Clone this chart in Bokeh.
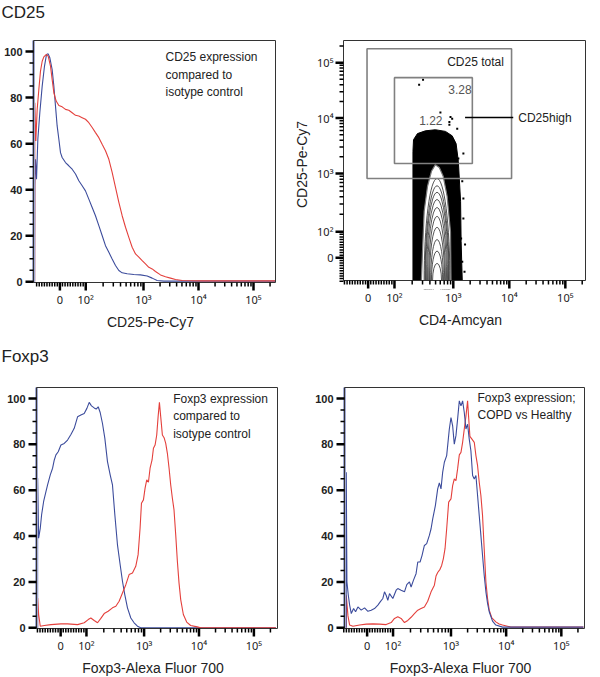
from bokeh.plotting import figure
from bokeh.layouts import column, row
from bokeh.models import Range1d, FixedTicker
from bokeh.core.properties import value
from bokeh.embed import file_html
from bokeh.resources import INLINE
import math

FONT = "Liberation Sans"
TICK_FONT = "Noto Sans"

# ---------------- axis scales (display units: one unit = one decade) ----------------
fl_tick_values = [1.48, 1.95, 3.0, 4.0, 5.0]
fl_tick_labels = ["0", "10²", "10³", "10⁴", "10⁵"]
pct_ticks = [0, 20, 40, 60, 80, 100]
pct_minor = [5, 10, 15, 25, 30, 35, 45, 50, 55, 65, 70, 75, 85, 90, 95]

# ---------------- CD25 histogram (isotype = blue, CD25 = red) ----------------
cd25_iso_x = [1.02, 1.024, 1.036, 1.055, 1.079, 1.115, 1.158, 1.200, 1.236, 1.267,
              1.297, 1.339, 1.370, 1.400, 1.430, 1.461, 1.491, 1.521, 1.582, 1.642,
              1.703, 1.764, 1.824, 1.885, 1.945, 2.006, 2.067, 2.127, 2.188, 2.248,
              2.309, 2.370, 2.430, 2.491, 2.552, 2.612, 2.703, 2.824, 2.945, 3.067,
              3.158, 3.248, 3.370, 5.40]
cd25_iso_pct = [0, 41.7, 53.2, 44.6, 61.9, 73.4, 85.0, 93.7, 98.7, 99.0,
                97.3, 92.2, 85.0, 76.3, 67.7, 61.9, 56.1, 54.0, 51.8, 50.4,
                48.9, 46.8, 43.9, 41.7, 39.5, 35.9, 32.3, 28.7, 24.4, 20.1,
                15.7, 12.8, 9.9, 7.1, 4.9, 3.9, 3.5, 3.2, 3.0, 2.5,
                1.6, 0.6, 0.3, 0.3]
cd25_stain_x = [1.02, 1.024, 1.042, 1.067, 1.097, 1.127, 1.158, 1.188, 1.230, 1.267,
                1.309, 1.339, 1.370, 1.412, 1.461, 1.521, 1.582, 1.642, 1.703, 1.764,
                1.824, 1.885, 1.945, 2.006, 2.067, 2.127, 2.188, 2.248, 2.309, 2.370,
                2.430, 2.491, 2.552, 2.612, 2.673, 2.733, 2.794, 2.855, 2.915, 2.976,
                3.036, 3.097, 3.158, 3.218, 3.309, 3.400, 3.491, 3.582, 3.703, 4.036,
                5.40]
cd25_stain_pct = [0, 77.8, 61.2, 74.9, 83.5, 91.5, 95.8, 97.7, 98.7, 98.0,
                  93.7, 87.9, 82.1, 78.5, 76.6, 76.0, 74.9, 74.5, 73.4, 72.3,
                  72.0, 71.3, 70.6, 69.1, 67.0, 64.8, 62.6, 59.7, 56.9, 53.2,
                  47.5, 41.0, 34.5, 28.7, 23.7, 19.3, 15.0, 12.1, 10.7, 9.2,
                  7.8, 6.3, 5.6, 4.5, 3.0, 2.2, 1.6, 1.0, 0.6, 0.4,
                  0.4]

# ---------------- CD4 vs CD25 plot ----------------
cloud_x = [2.28, 2.28, 2.29, 2.36, 2.50, 2.68, 2.86, 2.98, 3.05, 3.09, 3.13, 3.14, 3.16]
cloud_y = [1.07, 3.40, 3.61, 3.72, 3.77, 3.79, 3.76, 3.68, 3.54, 3.22, 2.50, 1.77, 1.07]
arch_x = [2.43, 2.45, 2.48, 2.54, 2.61, 2.68, 2.75, 2.82, 2.89, 2.95, 2.96]
arch_y = [1.07, 1.59, 2.32, 2.77, 3.04, 3.16, 3.11, 2.95, 2.59, 1.95, 1.07]
contour_center_x = 2.71
contour_base_y = 1.07
contour_top_y = [2.91, 2.78, 2.66, 2.53, 2.39, 2.23, 2.03, 1.81, 1.60, 1.38]
contour_width = [0.46, 0.43, 0.41, 0.375, 0.34, 0.30, 0.27, 0.23, 0.20, 0.16]
event_x = [2.39, 2.46, 2.77, 2.98, 2.93, 3.07, 3.18, 3.09, 3.16, 3.18, 3.18, 3.14, 3.21, 3.16, 3.20, 2.93, 2.95]
event_y = [4.60, 4.69, 4.10, 3.99, 3.88, 3.81, 3.36, 3.27, 2.86, 2.55, 2.19, 1.83, 1.72, 1.41, 1.23, 3.93, 4.02]
gate_names = ["CD25 total", "CD25high"]
gate_left = [1.46, 1.95]
gate_right = [4.04, 3.34]
gate_bottom = [2.91, 3.18]
gate_top = [5.25, 4.73]
gate_freq = ["3.28", "1.22"]

# ---------------- Foxp3 vs isotype ----------------
foxp3_iso_x = [1.06, 1.061, 1.079, 1.109, 1.133, 1.170, 1.212, 1.242, 1.291, 1.333,
               1.364, 1.394, 1.436, 1.485, 1.545, 1.606, 1.667, 1.727, 1.788, 1.848,
               1.909, 1.958, 2.000, 2.042, 2.091, 2.127, 2.164, 2.200, 2.242, 2.285,
               2.333, 2.382, 2.424, 2.467, 2.515, 2.564, 2.606, 2.648, 2.697, 2.758,
               2.818, 2.879, 2.939, 5.40]
foxp3_iso_pct = [0, 65.2, 39.1, 43.5, 49.3, 55.1, 59.4, 62.3, 66.7, 69.6,
                 73.2, 75.4, 76.8, 79.7, 80.4, 81.9, 84.3, 87.0, 92.0, 92.8,
                 93.5, 95.7, 98.3, 96.8, 95.9, 95.4, 96.4, 93.9, 89.1, 82.6,
                 72.5, 66.7, 62.3, 49.3, 36.2, 27.5, 20.3, 14.5, 8.7, 4.3,
                 2.2, 0.7, 0.0, 0.0]
foxp3_stain_x = [1.06, 1.061, 1.079, 1.109, 1.182, 1.303, 1.485, 1.606, 1.788, 1.909,
                 1.982, 2.030, 2.091, 2.152, 2.212, 2.273, 2.345, 2.424, 2.485, 2.545,
                 2.606, 2.667, 2.727, 2.788, 2.848, 2.891, 2.927, 2.952, 2.988, 3.018,
                 3.048, 3.079, 3.109, 3.145, 3.170, 3.200, 3.230, 3.255, 3.279, 3.303,
                 3.333, 3.364, 3.394, 3.424, 3.455, 3.485, 3.515, 3.545, 3.576, 3.606,
                 3.636, 3.667, 3.715, 3.776, 3.848, 3.970, 4.030, 5.40]
foxp3_stain_pct = [0, 13.0, 5.8, 0.7, 1.0, 1.4, 1.7, 1.7, 1.4, 2.2,
                   3.6, 4.3, 3.2, 2.2, 4.1, 6.2, 7.2, 8.7, 9.4, 11.6,
                   15.2, 18.8, 23.2, 23.9, 26.8, 31.9, 43.5, 54.3, 55.8, 60.9,
                   64.5, 63.5, 69.6, 73.2, 78.3, 79.7, 84.1, 92.0, 98.3, 92.0,
                   84.1, 82.9, 80.4, 76.1, 69.6, 62.3, 56.5, 51.4, 40.6, 29.0,
                   19.6, 12.3, 5.8, 2.5, 1.0, 0.4, 0.0, 0.0]

# ---------------- Foxp3 COPD (blue) vs Healthy (red) ----------------
copd_x = [1.10, 1.102, 1.114, 1.139, 1.163, 1.193, 1.235, 1.271, 1.313, 1.373,
          1.434, 1.494, 1.554, 1.614, 1.675, 1.717, 1.765, 1.795, 1.825, 1.855,
          1.886, 1.946, 2.006, 2.036, 2.096, 2.157, 2.199, 2.247, 2.277, 2.319,
          2.367, 2.398, 2.440, 2.476, 2.518, 2.560, 2.608, 2.639, 2.669, 2.717,
          2.759, 2.789, 2.819, 2.849, 2.880, 2.922, 2.970, 3.000, 3.030, 3.060,
          3.090, 3.120, 3.151, 3.181, 3.211, 3.241, 3.271, 3.301, 3.331, 3.361,
          3.392, 3.422, 3.452, 3.482, 3.512, 3.542, 3.572, 3.602, 3.633, 3.663,
          3.693, 3.753, 3.813, 3.934, 5.40]
copd_pct = [0, 67.8, 20.0, 14.2, 9.9, 6.2, 8.4, 7.0, 9.1, 7.7,
            8.7, 7.2, 7.7, 8.4, 9.9, 11.3, 12.8, 15.7, 14.2, 12.0,
            14.9, 12.8, 16.4, 17.1, 16.4, 15.7, 18.8, 20.0, 17.8, 20.7,
            23.6, 28.7, 28.7, 31.6, 35.9, 36.7, 40.3, 43.2, 47.5, 53.3,
            60.6, 63.2, 60.6, 67.8, 72.2, 75.1, 86.7, 91.7, 88.1, 80.1,
            83.8, 91.0, 99.0, 96.8, 99.0, 93.9, 86.7, 88.8, 82.3, 77.2,
            66.4, 64.9, 66.4, 57.7, 49.0, 40.3, 31.6, 22.9, 15.7, 10.6,
            7.0, 2.9, 1.2, 0.3, 0.3]
healthy_x = [1.10, 1.102, 1.133, 1.163, 1.223, 1.343, 1.464, 1.584, 1.705, 1.825,
             1.916, 1.976, 2.036, 2.096, 2.157, 2.217, 2.277, 2.337, 2.398, 2.458,
             2.518, 2.578, 2.639, 2.699, 2.729, 2.759, 2.801, 2.831, 2.861, 2.892,
             2.922, 2.958, 3.000, 3.030, 3.060, 3.090, 3.120, 3.151, 3.181, 3.211,
             3.241, 3.271, 3.301, 3.319, 3.343, 3.380, 3.422, 3.452, 3.482, 3.512,
             3.542, 3.572, 3.602, 3.633, 3.663, 3.693, 3.741, 3.813, 3.873, 3.934,
             4.024, 4.084, 5.40]
healthy_pct = [0, 14.2, 5.2, 1.2, 0.7, 1.2, 1.6, 1.7, 1.6, 1.4,
               2.3, 4.1, 4.8, 4.1, 2.3, 3.2, 4.6, 6.2, 7.7, 8.4,
               9.1, 11.6, 15.7, 18.6, 22.6, 24.1, 25.5, 27.2, 30.1, 34.5,
               43.2, 54.8, 56.2, 62.0, 64.9, 64.2, 69.3, 75.4, 76.5, 80.9,
               86.7, 92.2, 99.0, 92.2, 83.5, 82.3, 80.9, 75.1, 70.7, 63.5,
               57.7, 49.0, 34.5, 20.0, 12.8, 7.7, 4.3, 2.6, 1.7, 1.2,
               0.7, 0.3, 0.3]

RED = "#e4403c"
BLUE = "#3c4c9c"
INK = "#222222"
TICK_ZONE = 9   # px reserved outside the plot box for tick marks
MAJOR_LEN = 8
MINOR_LEN = 4


def fl_minor_ticks():
    z, h = fl_tick_values[0], fl_tick_values[1]
    step = (h - z) / 10.0
    ticks = [z - step * k for k in range(1, 10)] + [z + step * k for k in range(1, 10)]
    for k in range(2, 10):
        ticks.append(h + (3.0 - h) * math.log10(k))
        ticks.append(3.0 + math.log10(k))
        ticks.append(4.0 + math.log10(k))
    ticks.append(5.0 + math.log10(2))
    return ticks


def label_axis(ax, ticks, overrides, font, size, style, standoff):
    ax.ticker = FixedTicker(ticks=ticks)
    if overrides:
        ax.major_label_overrides = overrides
    ax.major_label_text_font = font
    ax.major_label_text_font_size = size
    ax.major_label_text_font_style = style
    ax.major_label_text_color = INK
    ax.major_label_standoff = standoff
    ax.axis_line_color = None
    ax.major_tick_line_color = None
    ax.minor_tick_line_color = None
    ax.major_tick_out = 0
    ax.major_tick_in = 0
    ax.minor_tick_out = 0
    ax.minor_tick_in = 0
    ax.axis_label_text_font = FONT
    ax.axis_label_text_font_size = "14px"
    ax.axis_label_text_font_style = "normal"
    ax.axis_label_text_color = INK
    ax.axis_label_standoff = 4


def boxed_fig(bx, by, bw, bh, left, right, top, bottom, y_is_fl):
    ux = (bx[1] - bx[0]) / bw
    uy = (by[1] - by[0]) / bh
    p = figure(frame_width=bw + TICK_ZONE + 1, frame_height=bh + TICK_ZONE + 1,
               x_range=Range1d(bx[0] - TICK_ZONE * ux, bx[1] + ux),
               y_range=Range1d(by[0] - TICK_ZONE * uy, by[1] + uy),
               toolbar_location=None, output_backend="svg",
               min_border_left=left, min_border_right=right,
               min_border_top=top, min_border_bottom=bottom)
    p.grid.visible = False
    p.outline_line_color = None
    p.background_fill_color = "white"
    p.border_fill_color = "white"
    label_axis(p.xaxis[0], fl_tick_values, dict(zip(fl_tick_values, fl_tick_labels)),
               TICK_FONT, "11px", "normal", 0)
    if y_is_fl:
        label_axis(p.yaxis[0], fl_tick_values, dict(zip(fl_tick_values, fl_tick_labels)),
                   TICK_FONT, "11px", "normal", 1)
    else:
        label_axis(p.yaxis[0], pct_ticks, None, FONT, "11px", "bold", 2)
    return p, (bx, by, ux, uy)


def tick_bars_x(p, box, ticks, length, thick):
    bx, by, ux, uy = box
    half = thick / 2.0 * ux
    p.quad(left=[t - half for t in ticks], right=[t + half for t in ticks],
           bottom=[by[0] - length * uy] * len(ticks), top=[by[0]] * len(ticks),
           fill_color="black", line_color=None)


def tick_bars_y(p, box, ticks, length, thick):
    bx, by, ux, uy = box
    half = thick / 2.0 * uy
    p.quad(left=[bx[0] - length * ux] * len(ticks), right=[bx[0]] * len(ticks),
           bottom=[t - half for t in ticks], top=[t + half for t in ticks],
           fill_color="black", line_color=None)


def draw_frame(p, box, y_major, y_minor, band=None):
    bx, by, ux, uy = box
    if band:
        p.quad(left=[bx[0] - 1.5 * ux], right=[bx[0] + 1.5 * ux], bottom=[by[0]], top=[by[1]],
               fill_color=band, line_color=None)
    p.quad(left=[bx[0]], right=[bx[1]], bottom=[by[0]], top=[by[1]],
           fill_color=None, line_color="#333333", line_width=1)
    tick_bars_x(p, box, fl_tick_values, MAJOR_LEN, 2.5)
    tick_bars_x(p, box, fl_minor_ticks(), MINOR_LEN, 1.5)
    tick_bars_y(p, box, y_major, MAJOR_LEN, 2.5)
    tick_bars_y(p, box, y_minor, MINOR_LEN, 1.5)


def hist_fig(bx, bw, bh, left, right, top, bottom, xlabel, series, note, note_x, note_y):
    p, box = boxed_fig(bx, (-0.3, 104.8), bw, bh, left, right, top, bottom, False)
    p.xaxis.axis_label = xlabel
    for xs, ys, col in series:
        p.line(xs, ys, line_color=col, line_width=1.1)
    p.text(x=[note_x], y=[note_y], text=[note], text_font=value(FONT),
           text_font_size="12px", text_color=INK, text_baseline="top",
           text_line_height=1.25)
    draw_frame(p, box, pct_ticks, pct_minor, band="#a3aad3")
    return p


def title_fig(txt, h, top):
    t = figure(width=586, height=h, x_range=Range1d(0, 586), y_range=Range1d(h, 0),
               toolbar_location=None, output_backend="svg", min_border=0,
               x_axis_location=None, y_axis_location=None)
    t.grid.visible = False
    t.outline_line_color = None
    t.text(x=[1], y=[top], text=[txt], text_font=value(FONT), text_font_size="17px",
           text_color=INK, text_baseline="top")
    return t


t1 = title_fig("CD25", 36, 2)

p1 = hist_fig((1.0, 5.4), 242, 242, 24, 13, 3, 46, "CD25-Pe-Cy7",
              [(cd25_iso_x, cd25_iso_pct, BLUE), (cd25_stain_x, cd25_stain_pct, RED)],
              "CD25 expression\ncompared to\nisotype control", 3.4, 100.6)

# --- CD4 vs CD25 contour/dot plot ---
p2, box2 = boxed_fig((1.04, 5.36), (1.07, 5.40), 242, 240, 45, 0, 1, 50, True)
p2.xaxis.axis_label = "CD4-Amcyan"
p2.yaxis.axis_label = "CD25-Pe-Cy7"
p2.patch(cloud_x, cloud_y, fill_color="black", line_color="black", line_width=1)
p2.patch(arch_x, arch_y, fill_color="white", line_color="#777777", line_width=1.2)
p2.ellipse(x=[contour_center_x] * len(contour_top_y), y=[contour_base_y] * len(contour_top_y),
           width=contour_width, height=[2 * (t - contour_base_y) for t in contour_top_y],
           fill_color=None, line_color="#2a2a2a", line_width=0.8)
p2.scatter(event_x, event_y, marker="square", size=2, fill_color="black", line_color=None)
# mask everything that falls in the tick zone below the plot box
p2.quad(left=[box2[0][0] - TICK_ZONE * box2[2]], right=[box2[0][1] + box2[2]],
        bottom=[box2[1][0] - TICK_ZONE * box2[3]], top=[box2[1][0]],
        fill_color="white", line_color=None)
p2.quad(left=gate_left, right=gate_right, bottom=gate_bottom, top=gate_top,
        fill_color=None, line_color="#808080", line_width=1.6)
p2.text(x=[gate_right[0] - 1.15], y=[gate_top[0] - 0.23], text=[gate_names[0]],
        text_font=value(FONT), text_font_size="12px", text_color=INK, text_baseline="middle")
p2.text(x=[2.91, 2.39], y=[4.51, 3.95], text=gate_freq, text_font=value(FONT),
        text_font_size="12px", text_color="#555555", text_baseline="middle")
p2.segment(x0=[gate_right[1] - 0.13], y0=[4.01], x1=[4.07], y1=[4.01],
           line_color="black", line_width=1.5)
p2.text(x=[4.16], y=[4.01], text=[gate_names[1]], text_font=value(FONT),
        text_font_size="12px", text_color=INK, text_baseline="middle")
draw_frame(p2, box2, fl_tick_values, fl_minor_ticks())

t2 = title_fig("Foxp3", 46, 9)

p3 = hist_fig((1.04, 5.43), 241, 241, 27, 12, 3, 35, "Foxp3-Alexa Fluor 700",
              [(foxp3_iso_x, foxp3_iso_pct, BLUE), (foxp3_stain_x, foxp3_stain_pct, RED)],
              "Foxp3 expression\ncompared to\nisotype control", 3.53, 103.0)

p4 = hist_fig((1.07, 5.42), 240, 241, 45, 2, 3, 35, "Foxp3-Alexa Fluor 700",
              [(healthy_x, healthy_pct, RED), (copd_x, copd_pct, BLUE)],
              "Foxp3 expression;\nCOPD vs Healthy", 3.48, 103.3)

layout = column(t1, row(p1, p2), t2, row(p3, p4))

open("out.html", "w").write(file_html(layout, INLINE))
